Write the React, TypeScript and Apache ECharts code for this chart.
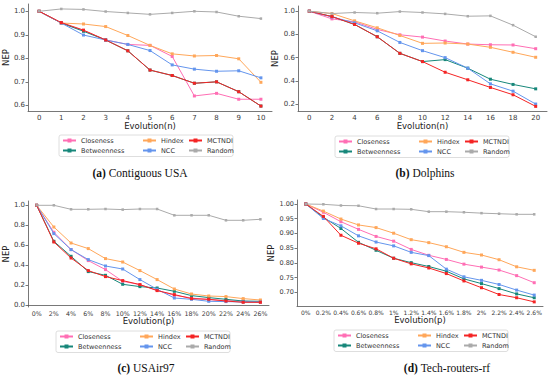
import React, { useEffect, useRef } from "react";
import * as echarts from "echarts";

const names = ["Closeness", "Betweenness", "Hindex", "NCC", "MCTNDI", "Random"];
const colors = ["#ff6eb4", "#17877a", "#ffa75a", "#6495ed", "#f42424", "#aaaaaa"];

// (a) Contiguous USA
const catsA = ["0", "1", "2", "3", "4", "5", "6", "7", "8", "9", "10"];
const aCloseness = [1.0, 0.95, 0.918, 0.878, 0.859, 0.855, 0.808, 0.64, 0.651, 0.626, 0.626];
const aBetweenness = [1.0, 0.95, 0.915, 0.878, 0.832, 0.75, 0.727, 0.694, 0.7, 0.658, 0.597];
const aHindex = [1.0, 0.95, 0.946, 0.935, 0.897, 0.855, 0.819, 0.81, 0.812, 0.798, 0.698];
const aNCC = [1.0, 0.95, 0.899, 0.878, 0.859, 0.833, 0.772, 0.754, 0.745, 0.747, 0.717];
const aMCTNDI = [1.0, 0.952, 0.92, 0.878, 0.832, 0.75, 0.727, 0.694, 0.7, 0.658, 0.597];
const aRandom = [1.0, 1.01, 1.008, 0.999, 0.993, 0.987, 0.993, 1.0, 0.997, 0.979, 0.969];
const aTicks = [0.6, 0.7, 0.8, 0.9, 1.0];

// (b) Dolphins
const catsB = ["0", "2", "4", "6", "8", "10", "12", "14", "16", "18", "20"];
const bCloseness = [1.0, 0.934, 0.909, 0.843, 0.797, 0.777, 0.743, 0.717, 0.711, 0.709, 0.677];
const bBetweenness = [1.0, 0.954, 0.886, 0.78, 0.637, 0.566, 0.583, 0.509, 0.414, 0.369, 0.331];
const bHindex = [1.0, 0.98, 0.917, 0.857, 0.791, 0.723, 0.726, 0.717, 0.689, 0.646, 0.603];
const bNCC = [1.0, 0.951, 0.9, 0.831, 0.731, 0.66, 0.6, 0.509, 0.374, 0.311, 0.2];
const bMCTNDI = [1.0, 0.954, 0.886, 0.78, 0.637, 0.566, 0.474, 0.409, 0.343, 0.28, 0.18];
const bRandom = [1.0, 0.98, 0.989, 0.983, 0.997, 0.989, 0.977, 0.957, 0.96, 0.88, 0.78];
const bTicks = [0.2, 0.4, 0.6, 0.8, 1.0];

// (c) USAir97
const catsC = ["0%", "2%", "4%", "6%", "8%", "10%", "12%", "14%", "16%", "18%", "20%", "22%", "24%", "26%"];
const cCloseness = [1.0, 0.73, 0.557, 0.447, 0.357, 0.24, 0.207, 0.15, 0.1, 0.073, 0.057, 0.047, 0.04, 0.033];
const cBetweenness = [1.0, 0.64, 0.49, 0.337, 0.3, 0.21, 0.187, 0.173, 0.14, 0.097, 0.077, 0.06, 0.043, 0.04];
const cHindex = [1.0, 0.783, 0.623, 0.567, 0.467, 0.433, 0.347, 0.257, 0.163, 0.113, 0.093, 0.087, 0.067, 0.053];
const cNCC = [1.0, 0.717, 0.557, 0.457, 0.393, 0.363, 0.257, 0.16, 0.073, 0.06, 0.04, 0.037, 0.033, 0.033];
const cMCTNDI = [1.0, 0.633, 0.473, 0.347, 0.287, 0.247, 0.207, 0.147, 0.107, 0.067, 0.06, 0.043, 0.03, 0.03];
const cRandom = [1.0, 1.0, 0.96, 0.96, 0.963, 0.957, 0.963, 0.963, 0.9, 0.9, 0.9, 0.85, 0.85, 0.86];
const cTicks = [0.0, 0.2, 0.4, 0.6, 0.8, 1.0];

// (d) Tech-routers-rf
const catsD = ["0%", "0.2%", "0.4%", "0.6%", "0.8%", "1%", "1.2%", "1.4%", "1.6%", "1.8%", "2%", "2.2%", "2.4%", "2.6%"];
const dCloseness = [1.0, 0.972, 0.94, 0.914, 0.89, 0.874, 0.846, 0.826, 0.812, 0.796, 0.786, 0.776, 0.757, 0.733];
const dBetweenness = [1.0, 0.955, 0.917, 0.87, 0.843, 0.816, 0.801, 0.788, 0.772, 0.746, 0.73, 0.713, 0.695, 0.682];
const dHindex = [1.0, 0.976, 0.949, 0.929, 0.92, 0.901, 0.879, 0.869, 0.855, 0.836, 0.827, 0.811, 0.787, 0.775];
const dNCC = [1.0, 0.951, 0.926, 0.892, 0.871, 0.858, 0.836, 0.825, 0.779, 0.753, 0.741, 0.727, 0.708, 0.691];
const dMCTNDI = [1.0, 0.958, 0.894, 0.867, 0.848, 0.816, 0.797, 0.783, 0.764, 0.739, 0.716, 0.693, 0.682, 0.668];
const dRandom = [1.0, 0.999, 0.995, 0.994, 0.983, 0.983, 0.982, 0.974, 0.974, 0.972, 0.969, 0.967, 0.965, 0.965];
const dTicks = [0.7, 0.75, 0.8, 0.85, 0.9, 0.95, 1.0];

const FONT = "DejaVu Sans";

type Panel = {
  cats: string[];
  data: number[][];
  ticks: number[];
  digits: number;
  xName: string;
  xFont: number;
  grid: { left: number; top: number; width: number; height: number };
  min: number;
  max: number;
  legendX: number;
  legendY: number;
  letter: string;
  caption: string;
  captionX: number;
  captionY: number;
};

const panels: Panel[] = [
  {
    cats: catsA, data: [aCloseness, aBetweenness, aHindex, aNCC, aMCTNDI, aRandom], ticks: aTicks, digits: 1,
    xName: "Evolution(n)", xFont: 7, grid: { left: 23, top: 4, width: 249, height: 107 }, min: 0.576, max: 1.031,
    legendX: 59, legendY: 135, letter: "(a)", caption: "Contiguous USA", captionX: 140, captionY: 173,
  },
  {
    cats: catsB, data: [bCloseness, bBetweenness, bHindex, bNCC, bMCTNDI, bRandom], ticks: bTicks, digits: 1,
    xName: "Evolution(n)", xFont: 7, grid: { left: 298, top: 6, width: 249, height: 105 }, min: 0.14, max: 1.045,
    legendX: 335, legendY: 136, letter: "(b)", caption: "Dolphins", captionX: 425, captionY: 173,
  },
  {
    cats: catsC, data: [cCloseness, cBetweenness, cHindex, cNCC, cMCTNDI, cRandom], ticks: cTicks, digits: 1,
    xName: "Evolution(p)", xFont: 6.3, grid: { left: 21, top: 201, width: 248, height: 106 }, min: -0.017, max: 1.043,
    legendX: 56, legendY: 331, letter: "(c)", caption: "USAir97", captionX: 146, captionY: 368,
  },
  {
    cats: catsD, data: [dCloseness, dBetweenness, dHindex, dNCC, dMCTNDI, dRandom], ticks: dTicks, digits: 2,
    xName: "Evolution(p)", xFont: 6, grid: { left: 297, top: 200, width: 246, height: 106 }, min: 0.654, max: 1.0136,
    legendX: 334, legendY: 330, letter: "(d)", caption: "Tech-routers-rf", captionX: 447, captionY: 368,
  },
];

function buildOption() {
  const grid: any[] = [];
  const xAxis: any[] = [];
  const yAxis: any[] = [];
  const series: any[] = [];
  const legend: any[] = [];
  const graphic: any[] = [];

  panels.forEach((p, i) => {
    grid.push({ ...p.grid, containLabel: false });
    xAxis.push({
      type: "category",
      gridIndex: i,
      data: p.cats,
      boundaryGap: true,
      axisLine: { lineStyle: { color: "#555", width: 0.8 } },
      axisTick: { alignWithLabel: true, length: 2.5, lineStyle: { color: "#555", width: 0.8 } },
      axisLabel: { interval: 0, fontSize: p.xFont, color: "#3a3a3a", margin: 3, fontFamily: FONT },
      splitLine: { show: false },
      name: p.xName,
      nameLocation: "middle",
      nameGap: 9,
      nameTextStyle: { fontSize: 8.5, color: "#222", fontFamily: FONT },
    });
    yAxis.push({
      type: "value",
      gridIndex: i,
      min: p.min,
      max: p.max,
      axisLine: { show: true, lineStyle: { color: "#555", width: 0.8 } },
      axisTick: { show: true, length: 2.5, customValues: p.ticks, lineStyle: { color: "#555", width: 0.8 } },
      axisLabel: {
        fontSize: p.digits === 2 ? 6.5 : 7, color: "#3a3a3a", margin: 3, fontFamily: FONT, customValues: p.ticks,
        formatter: (v: number) => v.toFixed(p.digits),
      },
      splitLine: { show: false },
      name: "NEP",
      nameLocation: "middle",
      nameRotate: 90,
      nameGap: p.digits === 2 ? 17 : 13,
      nameTextStyle: { fontSize: 8.5, color: "#222", fontFamily: FONT },
    });
    names.forEach((n, k) => {
      series.push({
        type: "line",
        name: n,
        xAxisIndex: i,
        yAxisIndex: i,
        data: p.data[k],
        symbol: "rect",
        symbolSize: n === "Random" ? 2.5 : 3,
        showSymbol: true,
        lineStyle: { width: 1, color: colors[k] },
        itemStyle: { color: colors[k] },
        emphasis: { disabled: true },
        z: 2 + k,
      });
    });
    const cols = [
      [names[0], names[1]],
      [names[2], names[3]],
      [names[4], names[5]],
    ];
    const colOffsets = [3, 83, 129];
    cols.forEach((c, ci) => {
      legend.push({
        orient: "vertical",
        left: p.legendX + colOffsets[ci],
        top: p.legendY + 1.5,
        data: c,
        itemWidth: 13,
        itemHeight: 5,
        itemGap: 2,
        padding: 0,
        selectedMode: false,
        textStyle: { fontSize: 6.5, color: "#333", fontFamily: FONT, lineHeight: 8 },
      });
    });
    graphic.push({
      type: "rect",
      silent: true,
      shape: { x: p.legendX, y: p.legendY, width: 174, height: 21.5, r: 2 },
      style: { fill: "none", stroke: "#d6d6d6", lineWidth: 0.8 },
    });
    graphic.push({
      type: "text",
      silent: true,
      x: p.captionX,
      y: p.captionY,
      style: {
        text: "{b|" + p.letter + "} " + p.caption,
        rich: { b: { fontWeight: "bold", fontSize: 11.5, fontFamily: "Liberation Serif", fill: "#111" } },
        fontSize: 11.5,
        fontFamily: "Liberation Serif",
        fill: "#111",
        align: "center",
        verticalAlign: "middle",
      },
    });
  });

  return { animation: false, backgroundColor: "#ffffff", grid, xAxis, yAxis, series, legend, graphic };
}

export default function App() {
  const ref = useRef<HTMLDivElement>(null);
  useEffect(() => {
    if (!ref.current) return;
    const chart = echarts.init(ref.current, null, { renderer: "svg" });
    chart.setOption(buildOption());
    return () => chart.dispose();
  }, []);
  return (
    <div
      ref={ref}
      style={{ position: "fixed", left: 0, top: 0, width: 550, height: 378, background: "#fff" }}
    />
  );
}
